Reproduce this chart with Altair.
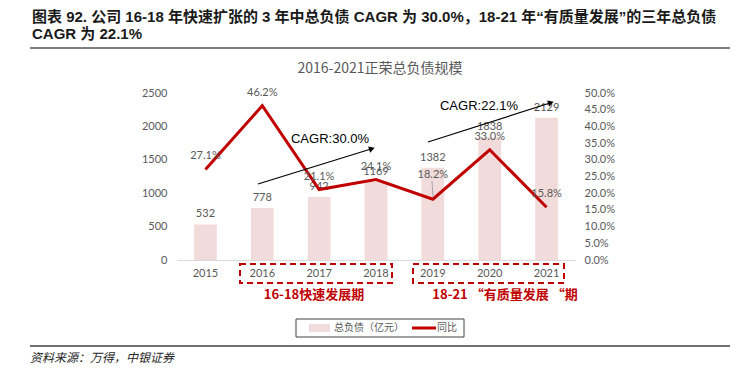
import altair as alt
import pandas as pd

years = ["2015", "2016", "2017", "2018", "2019", "2020", "2021"]
debt = [532, 778, 942, 1169, 1382, 1838, 2129]
yoy = [27.1, 46.2, 21.1, 24.1, 18.2, 33.0, 15.8]

df = pd.DataFrame({
    "year": years,
    "debt": debt,
    "yoy": [v / 100 for v in yoy],
    "debt_label": [str(v) for v in debt],
    "yoy_label": [f"{v:.1f}%" for v in yoy],
})

W, H = 398, 167
GRAY = "#595959"
RED = "#C00000"
NUM_FONT = "Lato"
CJK = "Noto Sans CJK SC"
TITLE_FONT = "Liberation Sans Narrow, Liberation Sans, Noto Sans CJK SC"

x_enc = alt.X(
    "year:N", sort=years,
    scale=alt.Scale(paddingInner=0.6, paddingOuter=0.3),
    axis=alt.Axis(title=None, labelAngle=0, ticks=False, domainColor="#D9D9D9",
                  labelColor=GRAY, labelFont=NUM_FONT, labelFontSize=11, labelPadding=7),
)

left_scale = alt.Scale(domain=[0, 2500])
right_scale = alt.Scale(domain=[0, 0.5])

base = alt.Chart(df)

bars = base.mark_bar(color="#F2DCDB").encode(
    x=x_enc,
    y=alt.Y("debt:Q", scale=left_scale,
            axis=alt.Axis(title=None, orient="left", values=[0, 500, 1000, 1500, 2000, 2500],
                          format="d", grid=False, domain=False, ticks=False, labelPadding=10,
                          labelColor=GRAY, labelFont=NUM_FONT, labelFontSize=11)),
)

bar_labels = base.mark_text(dy=-10, color=GRAY, font=NUM_FONT, fontSize=11).encode(
    x=x_enc,
    y=alt.Y("debt:Q", scale=left_scale, axis=None),
    text="debt_label:N",
)

line = base.mark_line(color=RED, strokeWidth=3).encode(
    x=x_enc,
    y=alt.Y("yoy:Q", scale=right_scale,
            axis=alt.Axis(title=None, orient="right", format=".1%",
                          values=[0, 0.05, 0.1, 0.15, 0.2, 0.25, 0.3, 0.35, 0.4, 0.45, 0.5],
                          grid=False, domain=False, ticks=False, labelPadding=9,
                          labelColor=GRAY, labelFont=NUM_FONT, labelFontSize=11)),
)

line_labels = base.transform_filter("datum.year != '2019'").mark_text(
    dy=-13, color=GRAY, font=NUM_FONT, fontSize=11).encode(
    x=x_enc,
    y=alt.Y("yoy:Q", scale=right_scale, axis=None),
    text="yoy_label:N",
)

line_label_2019 = base.transform_filter("datum.year == '2019'").mark_text(
    dy=-24, color=GRAY, font=NUM_FONT, fontSize=11).encode(
    x=x_enc,
    y=alt.Y("yoy:Q", scale=right_scale, axis=None),
    text="yoy_label:N",
)

one = pd.DataFrame({"t": [""]})


def txt(text, x, y, **kw):
    return alt.Chart(pd.DataFrame({"t": [text]})).mark_text(**kw).encode(
        x=alt.value(x), y=alt.value(y), text="t:N")


def rule(x1, y1, x2, y2, **kw):
    return alt.Chart(one).mark_rule(**kw).encode(
        x=alt.value(x1), y=alt.value(y1), x2=alt.value(x2), y2=alt.value(y2))


def box(x1, y1, x2, y2, **kw):
    return alt.Chart(one).mark_rect(**kw).encode(
        x=alt.value(x1), y=alt.value(y1), x2=alt.value(x2), y2=alt.value(y2))


def head(x, y, angle):
    return alt.Chart(one).mark_point(shape="triangle", filled=True, size=45, angle=angle,
                                     color="black", opacity=1).encode(
        x=alt.value(x), y=alt.value(y))


annotations = [
    # report title
    txt("图表 92. 公司 16-18 年快速扩张的 3 年中总负债 CAGR 为 30.0%，18-21 年“有质量发展”的三年总负债",
        -145, -76.5, align="left", font=TITLE_FONT, fontSize=15, fontWeight="bold", color="#1a1a1a"),
    txt("CAGR 为 22.1%", -145, -59, align="left", font=TITLE_FONT, fontSize=15, fontWeight="bold",
        color="#1a1a1a"),
    rule(-147, -45, 553, -45, color="#7F7F7F", strokeWidth=2),
    # chart title
    txt("2016-2021正荣总负债规模", 203, -24, font=CJK, fontSize=14, color=GRAY),
    # arrows
    rule(81, 91, 194, 56, color="black", strokeWidth=1.2),
    head(194, 56, 72),
    rule(251, 49, 373, 10, color="black", strokeWidth=1.2),
    head(373, 10, 72),
    txt("CAGR:30.0%", 153, 46, font="Liberation Sans", fontSize=13, color="black"),
    txt("CAGR:22.1%", 302, 13, font="Liberation Sans", fontSize=13, color="black"),
    # leader line for 2019 label
    rule(255, 88, 256, 104, color="#A6A6A6", strokeWidth=1),
    # dashed boxes
    box(63, 171, 215, 190, fillOpacity=0, stroke=RED, strokeWidth=2, strokeDash=[6, 4]),
    box(236, 171, 387, 190, fillOpacity=0, stroke=RED, strokeWidth=2, strokeDash=[6, 4]),
    txt("16-18快速发展期", 137, 202, font=CJK, fontSize=13, fontWeight="bold", color=RED),
    txt("18-21 “有质量发展 “期", 328, 202, font=CJK, fontSize=13, fontWeight="bold", color=RED),
    # legend
    box(119, 226, 287, 244, fillOpacity=0, stroke="#404040", strokeWidth=1),
    box(132, 231, 153, 239, color="#F2DCDB"),
    txt("总负债（亿元）", 157, 235, align="left", font=CJK, fontSize=10, color=GRAY),
    rule(235, 235, 259, 235, color=RED, strokeWidth=3),
    txt("同比", 260, 235, align="left", font=CJK, fontSize=10, color=GRAY),
    # source
    rule(-147, 253, 553, 253, color="#404040", strokeWidth=1.5),
    txt("资料来源：万得，中银证券", -147, 265, align="left", font=CJK, fontSize=12,
        fontStyle="italic", color="#262626"),
]

chart = alt.layer(bars, bar_labels, line, line_labels, line_label_2019, *annotations).resolve_scale(
    y="independent"
).properties(
    width=W, height=H,
    padding={"left": 169, "top": 85, "right": 168, "bottom": 106},
    autosize=alt.AutoSizeParams(type="none"),
).configure_view(stroke=None)

chart.save("out.html", embed_options={"renderer": "svg", "actions": False})
